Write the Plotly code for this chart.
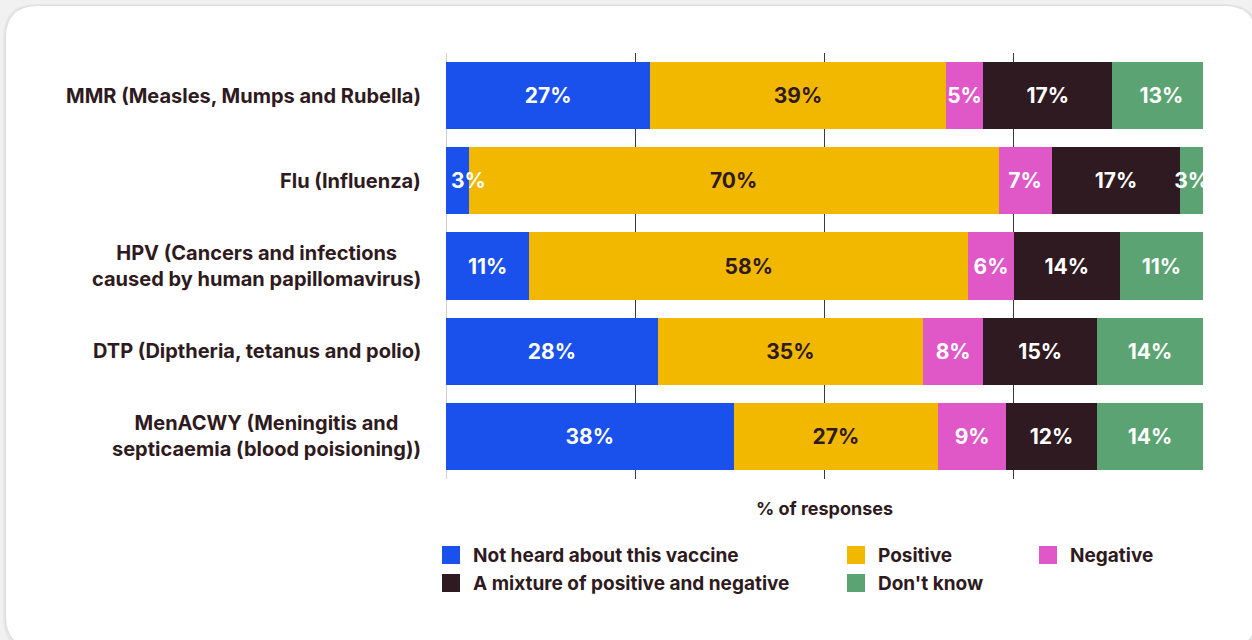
import plotly.graph_objects as go

# --- data -------------------------------------------------------------
vaccines = [
    "MMR (Measles, Mumps and Rubella)",
    "Flu (Influenza)",
    "HPV (Cancers and infections<br>caused by human papillomavirus)",
    "DTP (Diptheria, tetanus and polio)",
    "MenACWY (Meningitis and<br>septicaemia (blood poisioning))",
]
not_heard = [27, 3, 11, 28, 38]
positive = [39, 70, 58, 35, 27]
negative = [5, 7, 6, 8, 9]
mixture = [17, 17, 14, 15, 12]
dont_know = [13, 3, 11, 14, 14]

series_names = [
    "Not heard about this vaccine",
    "Positive",
    "Negative",
    "A mixture of positive and negative",
    "Don't know",
]
series_values = [not_heard, positive, negative, mixture, dont_know]

# --- style ------------------------------------------------------------
COLORS = ["#1a50ec", "#f2b800", "#e057c8", "#2e1a20", "#5ba372"]
TEXT_COLORS = ["#ffffff", "#2e1a20", "#ffffff", "#ffffff", "#ffffff"]
INK = "#2e1a20"
FONT = "Inter"
BAR_TEXT_SIZE = 21
NARROW = 5  # first-segment values below this get a start-aligned label

W, H = 1252, 640
M_L, M_R, M_T, M_B = 446, 49, 53, 161
PLOT_W = W - M_L - M_R
PLOT_H = H - M_T - M_B


def fx(x):
    """pixel x -> paper x"""
    return (x - M_L) / PLOT_W


def fy(y):
    """pixel y (from top) -> paper y"""
    return (H - M_B - y) / PLOT_H


def rounded_rect(x0, y0, x1, y1, r):
    """SVG path of a rounded rectangle given in pixels, returned in paper units."""
    pts = [
        f"M {fx(x0 + r)},{fy(y0)}",
        f"L {fx(x1 - r)},{fy(y0)}",
        f"Q {fx(x1)},{fy(y0)} {fx(x1)},{fy(y0 + r)}",
        f"L {fx(x1)},{fy(y1 - r)}",
        f"Q {fx(x1)},{fy(y1)} {fx(x1 - r)},{fy(y1)}",
        f"L {fx(x0 + r)},{fy(y1)}",
        f"Q {fx(x0)},{fy(y1)} {fx(x0)},{fy(y1 - r)}",
        f"L {fx(x0)},{fy(y0 + r)}",
        f"Q {fx(x0)},{fy(y0)} {fx(x0 + r)},{fy(y0)}",
        "Z",
    ]
    return " ".join(pts)


fig = go.Figure()
annotations = []

for k, (name, vals, col, tcol) in enumerate(zip(series_names, series_values, COLORS, TEXT_COLORS)):
    positions = ["inside"] * len(vals)
    if k == 0:
        # very thin leading segments: label starts at the bar's left end
        for i, v in enumerate(vals):
            if v < NARROW:
                positions[i] = "none"
                annotations.append(dict(
                    x=0, xref="x", y=vaccines[i], yref="y",
                    xanchor="left", yanchor="middle", xshift=3,
                    text=f"{v}%", showarrow=False,
                    font=dict(family=FONT, size=BAR_TEXT_SIZE, color=tcol, weight="bold"),
                ))
    fig.add_trace(
        go.Bar(
            y=vaccines,
            x=vals,
            name=name,
            orientation="h",
            marker=dict(color=col, line=dict(width=0)),
            texttemplate="%{x}%",
            textposition=positions,
            insidetextanchor="middle",
            constraintext="none",
            textangle=0,
            insidetextfont=dict(family=FONT, size=BAR_TEXT_SIZE, color=tcol, weight="bold"),
            showlegend=False,
            hoverinfo="skip",
        )
    )

shapes = []
# card shadow + white card
shapes.append(dict(type="path", xref="paper", yref="paper", layer="below",
                   path=rounded_rect(3, 4, 1259, 651, 34),
                   fillcolor="#e6e6e6", line=dict(width=0)))
shapes.append(dict(type="path", xref="paper", yref="paper", layer="below",
                   path=rounded_rect(5, 5, 1257, 649, 33),
                   fillcolor="#dedede", line=dict(width=0)))
shapes.append(dict(type="path", xref="paper", yref="paper", layer="below",
                   path=rounded_rect(6, 6, 1256, 648, 32),
                   fillcolor="#ffffff", line=dict(width=0)))

# category labels, centred multi-line blocks left of the axis
for v in vaccines:
    annotations.append(dict(
        x=0, xref="paper", y=v, yref="y", xanchor="right", yanchor="middle",
        xshift=-23, text=v, showarrow=False, align="center",
        font=dict(family=FONT, size=20, color=INK, weight="bold"),
    ))

# legend: coloured squares with labels in three columns
legend_pos = [(442, 555), (847, 555), (1039, 555), (442, 583), (847, 583)]
SQ = 18
for name, col, (lx, ly) in zip(series_names, COLORS, legend_pos):
    shapes.append(dict(type="rect", xref="paper", yref="paper",
                       x0=fx(lx), x1=fx(lx + SQ), y0=fy(ly + SQ / 2), y1=fy(ly - SQ / 2),
                       fillcolor=col, line=dict(width=0)))
    annotations.append(dict(
        x=fx(lx + SQ + 11), xref="paper", y=fy(ly), yref="paper",
        xanchor="left", yanchor="middle", text=name, showarrow=False,
        font=dict(family=FONT, size=19, color=INK, weight="bold"),
    ))

fig.update_layout(
    width=W, height=H,
    barmode="stack",
    bargap=0.21,
    margin=dict(l=M_L, r=M_R, t=M_T, b=M_B, pad=0),
    paper_bgcolor="#f1f1f1",
    plot_bgcolor="rgba(0,0,0,0)",
    font=dict(family=FONT, color=INK),
    shapes=shapes,
    annotations=annotations,
    xaxis=dict(
        range=[0, 100], dtick=25, tick0=0,
        showgrid=True, gridcolor="#3a3a3a", gridwidth=1,
        zeroline=True, zerolinecolor="#cfcfcf", zerolinewidth=1,
        showticklabels=False, ticks="", showline=False,
        title=dict(text="% of responses", standoff=23,
                   font=dict(family=FONT, size=18, color=INK, weight="bold")),
        fixedrange=True,
    ),
    yaxis=dict(
        autorange="reversed", showticklabels=False, showgrid=False,
        zeroline=False, ticks="", showline=False, fixedrange=True,
    ),
)

fig.write_html("out.html", config={"displayModeBar": False})
